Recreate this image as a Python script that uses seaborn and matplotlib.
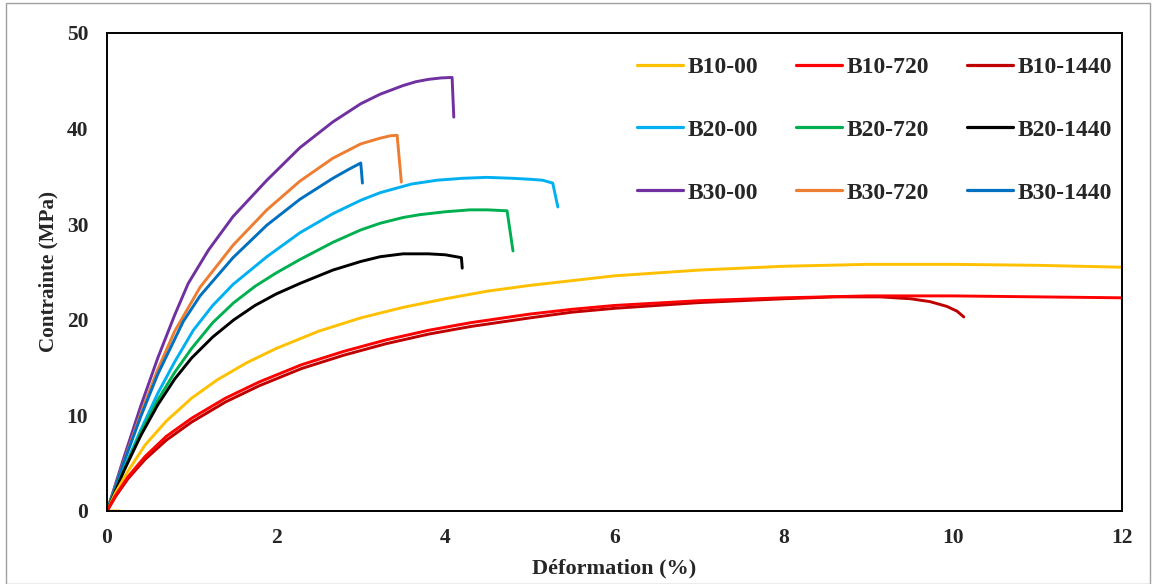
import numpy as np
import pandas as pd
import matplotlib
matplotlib.use("Agg")
import matplotlib.pyplot as plt
import seaborn as sns
from matplotlib.lines import Line2D
from matplotlib.patches import Rectangle

# ---- data ----
b10_00_x = [0.15, 0.0, 0.1, 0.25, 0.45, 0.7, 1.0, 1.3, 1.65, 2.0, 2.5, 3.0, 3.5, 4.0, 4.5,
            5.0, 5.5, 6.0, 7.0, 8.0, 9.0, 10.0, 11.0, 12.0]
b10_00_y = [0.0, 0.0, 1.9, 4.2, 6.9, 9.4, 11.8, 13.7, 15.5, 17.0, 18.8, 20.2, 21.3, 22.2, 23.0,
            23.6, 24.1, 24.6, 25.2, 25.6, 25.8, 25.8, 25.7, 25.5]

b10_720_x = [0.0, 0.1, 0.25, 0.45, 0.7, 1.0, 1.4, 1.8, 2.3, 2.8, 3.3, 3.8, 4.3, 5.0, 5.5,
             6.0, 7.0, 8.0, 9.0, 10.0, 11.0, 12.0]
b10_720_y = [0.0, 1.6, 3.6, 5.7, 7.8, 9.7, 11.8, 13.5, 15.3, 16.7, 17.9, 18.9, 19.7, 20.6, 21.1,
             21.5, 22.0, 22.3, 22.5, 22.5, 22.4, 22.3]

b10_1440_x = [0.0, 0.1, 0.25, 0.45, 0.7, 1.0, 1.4, 1.8, 2.3, 2.8, 3.3, 3.8, 4.3, 5.0, 5.5,
              6.0, 7.0, 8.0, 8.6, 9.14, 9.5, 9.73, 9.93, 10.05, 10.13]
b10_1440_y = [0.0, 1.5, 3.4, 5.4, 7.4, 9.3, 11.4, 13.1, 14.9, 16.3, 17.5, 18.5, 19.3, 20.2, 20.8,
              21.2, 21.8, 22.2, 22.4, 22.4, 22.2, 21.9, 21.4, 20.9, 20.3]

b20_00_x = [0.0, 0.2, 0.4, 0.6, 0.8, 1.02, 1.25, 1.49, 1.89, 2.28, 2.67, 3.0, 3.23, 3.6, 3.9,
            4.2, 4.49, 4.8, 5.0, 5.15, 5.27, 5.33]
b20_00_y = [0.0, 4.4, 8.5, 12.3, 15.6, 18.9, 21.5, 23.7, 26.6, 29.1, 31.1, 32.5, 33.3, 34.2, 34.6,
            34.8, 34.9, 34.8, 34.7, 34.6, 34.3, 31.8]

b20_720_x = [0.0, 0.2, 0.4, 0.6, 0.8, 1.0, 1.25, 1.5, 1.75, 2.0, 2.28, 2.67, 3.0, 3.23, 3.5,
             3.7, 4.0, 4.29, 4.5, 4.73, 4.8]
b20_720_y = [0.0, 4.3, 8.2, 11.6, 14.5, 17.0, 19.7, 21.8, 23.5, 24.9, 26.3, 28.1, 29.4, 30.1, 30.7,
             31.0, 31.3, 31.5, 31.5, 31.4, 27.2]

b20_1440_x = [0.0, 0.2, 0.4, 0.6, 0.8, 1.0, 1.25, 1.5, 1.75, 2.0, 2.28, 2.67, 3.0, 3.23, 3.5,
              3.8, 4.0, 4.19, 4.2]
b20_1440_y = [0.0, 4.2, 7.9, 11.1, 13.8, 16.0, 18.2, 20.0, 21.5, 22.7, 23.8, 25.2, 26.1, 26.6, 26.9,
              26.9, 26.8, 26.5, 25.4]

b30_00_x = [0.0, 0.2, 0.4, 0.6, 0.8, 0.96, 1.2, 1.49, 1.89, 2.28, 2.67, 3.0, 3.23, 3.5, 3.65,
            3.8, 3.95, 4.08, 4.1]
b30_00_y = [0.0, 5.6, 11.0, 16.0, 20.5, 23.8, 27.3, 30.8, 34.6, 38.0, 40.7, 42.6, 43.6, 44.5, 44.9,
            45.15, 45.3, 45.35, 41.2]

b30_720_x = [0.0, 0.2, 0.4, 0.6, 0.8, 1.1, 1.49, 1.89, 2.28, 2.67, 3.0, 3.23, 3.35, 3.43, 3.48]
b30_720_y = [0.0, 5.2, 10.2, 14.8, 18.8, 23.4, 27.8, 31.5, 34.5, 36.9, 38.4, 39.0, 39.25, 39.3, 34.4]

b30_1440_x = [0.0, 0.2, 0.4, 0.6, 0.9, 1.1, 1.49, 1.89, 2.28, 2.67, 2.85, 3.0, 3.02]
b30_1440_y = [0.0, 5.1, 9.9, 14.3, 19.8, 22.5, 26.5, 29.9, 32.6, 34.8, 35.7, 36.4, 34.3]

series_names = ["B10-00", "B20-00", "B30-00",
                "B10-720", "B20-720", "B30-720",
                "B10-1440", "B20-1440", "B30-1440"]
series_x = [b10_00_x, b20_00_x, b30_00_x, b10_720_x, b20_720_x, b30_720_x,
            b10_1440_x, b20_1440_x, b30_1440_x]
series_y = [b10_00_y, b20_00_y, b30_00_y, b10_720_y, b20_720_y, b30_720_y,
            b10_1440_y, b20_1440_y, b30_1440_y]
colors = {"B10-00": "#FFC000", "B10-720": "#FF0000", "B10-1440": "#C00000",
          "B20-00": "#00B0F0", "B20-720": "#00B050", "B20-1440": "#000000",
          "B30-00": "#7030A0", "B30-720": "#ED7D31", "B30-1440": "#0070C0"}

x_ticks = [0, 2, 4, 6, 8, 10, 12]
y_ticks = [0, 10, 20, 30, 40, 50]

rows = []
for name, xs, ys in zip(series_names, series_x, series_y):
    for i, (a, b) in enumerate(zip(xs, ys)):
        rows.append({"series": name, "order": i, "x": a, "y": b})
df = pd.DataFrame(rows)

sns.set_style("white")
plt.rcParams["font.family"] = ["Liberation Serif", "DejaVu Serif"]
plt.rcParams["font.weight"] = "bold"

fig = plt.figure(figsize=(11.57, 5.84), dpi=100)
ax = fig.add_axes([107 / 1157, 1 - 511 / 584, (1122 - 107) / 1157, (511 - 33) / 584])

draw_order = ["B30-00", "B30-720", "B30-1440", "B20-00", "B20-720", "B20-1440",
              "B10-00", "B10-1440", "B10-720"]
for name in draw_order:
    sub = df[df["series"] == name]
    sns.lineplot(data=sub, x="x", y="y", sort=False, estimator=None,
                 color=colors[name], linewidth=2.1, ax=ax, legend=False)

ax.set_xlim(0, 12)
ax.set_ylim(0, 50)
ax.set_xticks(x_ticks)
ax.set_yticks(y_ticks)
ax.set_xticklabels([str(t) for t in x_ticks], fontsize=15.5, fontweight="bold")
ax.set_yticklabels([str(t) for t in y_ticks], fontsize=15.5, fontweight="bold")
ax.tick_params(axis="x", length=0, pad=12)
ax.tick_params(axis="y", length=0, pad=13.5)
ax.set_xlabel("Déformation (%)", fontsize=16, fontweight="bold", labelpad=8)
ax.set_ylabel("Contrainte (MPa)", fontsize=15.2, fontweight="bold", labelpad=6)
for s in ax.spines.values():
    s.set_visible(True)
    s.set_color("black")
    s.set_linewidth(1.4)
ax.grid(False)

handles = [Line2D([0], [0], color=colors[n], linewidth=2.3) for n in series_names]
ax.legend(handles, series_names, ncol=3, loc="upper right",
          bbox_to_anchor=(1.0, 0.971), frameon=False,
          prop={"family": "Liberation Serif", "weight": "bold", "size": 17},
          handlelength=1.95, handletextpad=0.2, columnspacing=1.6,
          labelspacing=1.75, borderaxespad=0.0)

fig.patches.append(Rectangle((6 / 1157, 0.0), 1144 / 1157, 1 - 3 / 584,
                             transform=fig.transFigure, fill=False,
                             edgecolor="#A0A0A0", linewidth=1.0))

fig.savefig("out.png", dpi=100)
